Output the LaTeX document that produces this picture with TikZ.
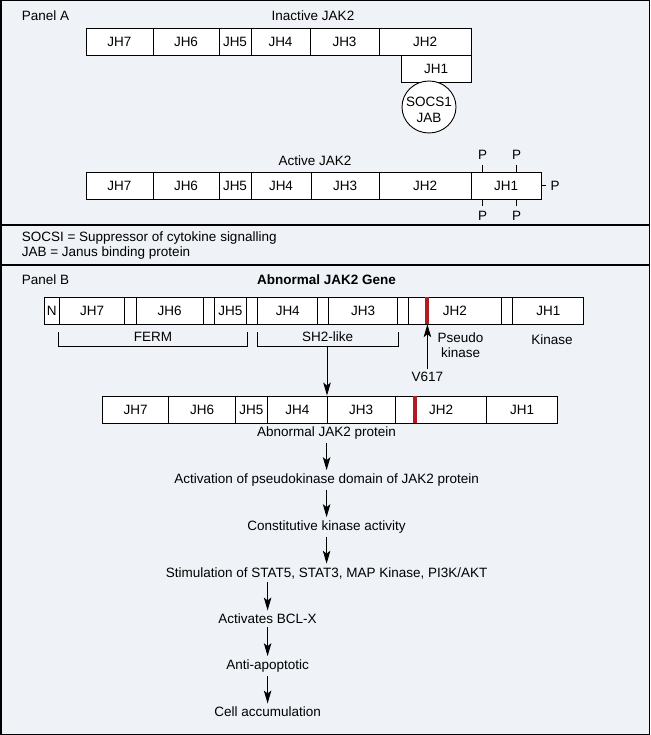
\documentclass[tikz,border=0pt]{standalone}
\usepackage{fontspec}
\setmainfont{Liberation Sans}
\usetikzlibrary{shapes.geometric,arrows.meta}
\definecolor{bgcol}{RGB}{239,242,247}
\definecolor{mutred}{RGB}{176,28,34}
\tikzset{
  cell/.style={draw, line width=0.9pt, minimum height=27pt, inner sep=0pt, fill=white},
  lbl/.style={inner sep=0pt},
  arr/.style={line width=0.9pt, -{Stealth[length=13pt,width=7.5pt,inset=3pt]}},
  brk/.style={line width=0.9pt},
  redbar/.style={fill=mutred, draw=none, minimum width=4pt, minimum height=27pt, inner sep=0pt}
}
\begin{document}
\begin{tikzpicture}[x=1pt,y=-1pt, font=\fontsize{13.5}{15}\selectfont]
\useasboundingbox (0,0) rectangle (650,735);
\fill[bgcol] (0,0) rectangle (650,735);
\draw[line width=1.5pt] (0.75,0.75) rectangle (649.25,734.25);
\draw[line width=1.2pt] (0,225) -- (650,225);
\draw[line width=1.2pt] (0,265) -- (650,265);

% Panel A
\node[lbl, anchor=west] (pa) at (21.6,16) {Panel A};
\node[lbl] (inact) at (313,16) {Inactive JAK2};
\node[cell, minimum width=67pt] (i7) at (119.5,41.5) {JH7};
\node[cell, minimum width=66pt] (i6) at (186,41.5) {JH6};
\node[cell, minimum width=32pt] (i5) at (235,41.5) {JH5};
\node[cell, minimum width=59pt] (i4) at (280.5,41.5) {JH4};
\node[cell, minimum width=69pt] (i3) at (344.5,41.5) {JH3};
\node[cell, minimum width=92pt] (i2) at (425,41.5) {JH2};
\node[cell, minimum width=70pt] (i1) at (436,68.5) {JH1};
\node[ellipse, draw, line width=0.9pt, fill=white, minimum width=54pt, minimum height=52pt, inner sep=0pt] (socs) at (429,107) {};
\node[lbl, align=center, font=\fontsize{13.5}{16}\selectfont] (socst) at (429,110) {SOCS1\\JAB};

\node[lbl] (act) at (315,161) {Active JAK2};
\node[cell, minimum width=67pt] (a7) at (119.5,185.5) {JH7};
\node[cell, minimum width=66pt] (a6) at (186,185.5) {JH6};
\node[cell, minimum width=32pt] (a5) at (235,185.5) {JH5};
\node[cell, minimum width=60pt] (a4) at (281,185.5) {JH4};
\node[cell, minimum width=68pt] (a3) at (345,185.5) {JH3};
\node[cell, minimum width=92pt] (a2) at (425,185.5) {JH2};
\node[cell, minimum width=70pt] (a1) at (506,185.5) {JH1};
\node[lbl] (pt1) at (482.5,155) {P};
\node[lbl] (pt2) at (516.5,155) {P};
\node[lbl] (pb1) at (482.5,216) {P};
\node[lbl] (pb2) at (516.5,216) {P};
\node[lbl] (pr) at (555,185.5) {P};
\draw[brk] (pt1 |- 0,165) -- (pt1 |- a1.north);
\draw[brk] (pt2 |- 0,165) -- (pt2 |- a1.north);
\draw[brk] (pb1 |- 0,206) -- (pb1 |- a1.south);
\draw[brk] (pb2 |- 0,206) -- (pb2 |- a1.south);
\draw[brk] (a1.east) -- (546,185.5);

% Legend
\node[lbl, anchor=west] (leg1) at (21.6,238) {SOCSI = Suppressor of cytokine signalling};
\node[lbl, anchor=west] (leg2) at (21.6,253) {JAB = Janus binding protein};

% Panel B
\node[lbl, anchor=west] (pb) at (21.6,280) {Panel B};
\node[lbl, font=\fontsize{13.5}{15}\selectfont\bfseries] (gene) at (326.6,280) {Abnormal JAK2 Gene};
\node[cell, minimum width=14.9pt] (gN) at (51.85,310.5) {N};
\node[cell, minimum width=65.6pt] (g7) at (92.1,310.5) {JH7};
\node[cell, minimum width=11.2pt] (gap1) at (130.5,310.5) {};
\node[cell, minimum width=67.2pt] (g6) at (169.7,310.5) {JH6};
\node[cell, minimum width=10.8pt] (gap2) at (208.7,310.5) {};
\node[cell, minimum width=32.4pt] (g5) at (230.3,310.5) {JH5};
\node[cell, minimum width=11.2pt] (gap3) at (252.1,310.5) {};
\node[cell, minimum width=60.1pt] (g4) at (287.75,310.5) {JH4};
\node[cell, minimum width=10.8pt] (gap4) at (323.2,310.5) {};
\node[cell, minimum width=68.9pt] (g3) at (363.05,310.5) {JH3};
\node[cell, minimum width=11.2pt] (gap5) at (403.1,310.5) {};
\node[cell, minimum width=92.5pt] (g2) at (454.95,310.5) {JH2};
\node[cell, minimum width=11.7pt] (gap6) at (507.05,310.5) {};
\node[cell, minimum width=70.9pt] (g1) at (548.35,310.5) {JH1};
\node[redbar] (redg) at (427.4,310.5) {};

\draw[brk] (g7.west |- 0,332) -- (g7.west |- 0,346) -- (g5.east |- 0,346) -- (g5.east |- 0,332);
\draw[brk] (g4.west |- 0,332) -- (g4.west |- 0,346) -- (g3.east |- 0,346) -- (g3.east |- 0,332);
\node[lbl] (ferm) at (152.9,337) {FERM};
\node[lbl] (sh2) at (327.6,337) {SH2-like};
\node[lbl, align=center] (pseudo) at (460.6,345.5) {Pseudo\\kinase};
\node[lbl] (kin) at (552,340) {Kinase};
\node (v617) at (427.4,377) {V617};
\draw[arr] (v617.north) -- (redg.south);

% Protein row
\node[cell, minimum width=66.4pt] (p7) at (135.7,409.5) {JH7};
\node[cell, minimum width=66.4pt] (p6) at (202.1,409.5) {JH6};
\node[cell, minimum width=32.3pt] (p5) at (251.45,409.5) {JH5};
\node[cell, minimum width=59.4pt] (p4) at (297.3,409.5) {JH4};
\node[cell, minimum width=68.4pt] (p3) at (361.2,409.5) {JH3};
\node[cell, minimum width=91.3pt] (p2) at (441.05,409.5) {JH2};
\node[cell, minimum width=70.6pt] (p1) at (522,409.5) {JH1};
\node[redbar] (redp) at (415,409.5) {};
\coordinate (sh2b) at (327,346);
\draw[arr] (sh2b) -- (sh2b |- p4.north);

% Flow
\node (t0) at (326.6,433) {Abnormal JAK2 protein};
\node (t1) at (326.6,480) {Activation of pseudokinase domain of JAK2 protein};
\node (t2) at (326.6,527) {Constitutive kinase activity};
\node (t3) at (326.6,573) {Stimulation of STAT5, STAT3, MAP Kinase, PI3K/AKT};
\node (t4) at (267.6,619) {Activates BCL-X};
\node (t5) at (267.6,666) {Anti-apoptotic};
\node (t6) at (267.6,712) {Cell accumulation};
\draw[arr] (t0) -- (t1);
\draw[arr] (t1) -- (t2);
\draw[arr] (t2) -- (t3);
\draw[arr] (t3.south -| t4) -- (t4);
\draw[arr] (t4) -- (t5);
\draw[arr] (t5) -- (t6);
\end{tikzpicture}
\end{document}
